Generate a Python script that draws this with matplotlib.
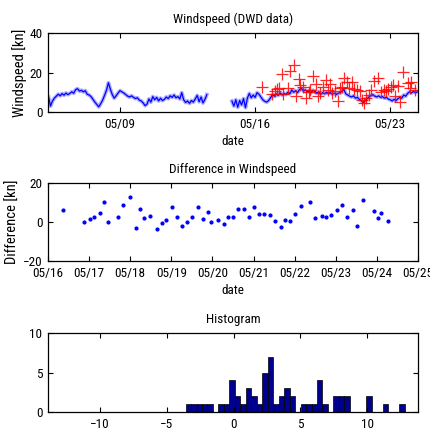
import numpy as np
import matplotlib
matplotlib.use("Agg")
import matplotlib.pyplot as plt
import matplotlib.dates as mdates
from datetime import datetime, timedelta

plt.rcParams['font.family'] = ['Roboto Condensed', 'DejaVu Sans']
plt.rcParams['font.size'] = 9.5

# ---------------- data ----------------
# measured wind speed (blue line), two segments, day-of-May
seg1_start, seg1_end = 5.3, 13.5
seg1_speed = [7.5, 3.0, 5.5, 7.0, 8.0, 9.0, 8.2, 9.3, 8.5, 9.6,
              8.8, 9.4, 10.2, 9.5, 11.3, 11.8, 10.6, 11.0, 10.2, 10.8,
              9.0, 8.6, 7.8, 6.4, 5.0, 3.8, 2.6, 4.2, 6.0, 8.4,
              11.0, 14.8, 11.6, 8.8, 7.0, 8.2, 9.6, 10.8, 10.2, 9.6,
              8.8, 8.0, 7.6, 8.2, 7.4, 6.8, 7.2, 6.0, 5.6, 4.6,
              3.2, 4.0, 6.6, 5.0, 7.8, 6.2, 7.4, 5.6, 7.0, 5.8,
              6.4, 7.6, 6.8, 8.2, 7.4, 8.6, 7.2, 7.8, 6.6, 9.8,
              6.2, 4.8, 5.6, 4.4, 5.8, 5.0, 6.6, 8.4, 5.2, 7.6,
              4.6, 6.4, 8.8]
seg2_start, seg2_end = 14.8, 24.4
seg2_speed = [5.5, 3.0, 6.2, 2.4, 5.8, 3.6, 6.8, 2.2, 7.0, 9.4,
              7.2, 8.6, 7.4, 9.8, 9.0, 7.6, 6.2, 5.4, 5.0, 5.8,
              7.2, 8.8, 8.0, 9.2, 8.4, 9.6, 8.6, 9.4, 8.8, 10.0,
              9.2, 11.2, 10.0, 10.8, 9.8, 11.4, 12.0, 10.6, 11.2, 10.2,
              10.8, 9.8, 11.0, 10.4, 9.6, 10.2, 9.0, 9.8, 9.2, 10.0,
              9.4, 9.8, 9.0, 9.6, 8.8, 9.4, 9.8, 10.6, 11.4, 9.2,
              8.6, 8.0, 7.6, 8.2, 7.0, 7.4, 6.4, 5.8, 4.8, 5.6,
              6.8, 7.6, 8.4, 8.8, 8.0, 7.6, 8.2, 7.4, 7.8, 7.0,
              7.4, 6.6, 6.2, 5.6, 6.4, 5.8, 6.8, 7.4, 7.0, 8.6,
              8.0, 9.4, 10.2, 9.6, 10.4, 9.8, 10.2]

# comparison times (day-of-May) shared by red crosses and differences
cmp_days = [16.37, 16.88, 17.02, 17.13, 17.26, 17.37, 17.47, 17.70, 17.83, 18.00,
            18.14, 18.25, 18.34, 18.48, 18.65, 18.77, 18.87, 19.01, 19.13, 19.25,
            19.37, 19.50, 19.66, 19.76, 19.88, 19.97, 20.13, 20.27, 20.38, 20.51,
            20.63, 20.77, 20.89, 21.00, 21.13, 21.26, 21.41, 21.52, 21.66, 21.76,
            21.89, 22.00, 22.15, 22.38, 22.50, 22.66, 22.76, 22.89, 23.03, 23.16,
            23.27, 23.41, 23.51, 23.67, 23.93, 24.02, 24.09, 24.27]
red_speed = [12.5, 9.0, 10.5, 11.5, 12.0, 19.2, 9.0, 12.4, 21.0, 23.8,
             8.0, 16.7, 13.5, 12.5, 6.9, 10.3, 11.0, 18.2, 14.0, 8.2,
             9.5, 12.5, 16.2, 11.0, 14.0, 9.5, 10.5, 5.5, 12.0, 12.8,
             17.0, 15.0, 12.0, 15.0, 11.5, 11.0, 10.8, 6.0, 4.4, 7.0,
             8.5, 11.3, 15.7, 17.4, 10.0, 11.3, 10.5, 11.4, 12.5, 13.9,
             8.0, 13.0, 5.2, 20.5, 14.9, 12.4, 15.0, 11.0]
difference = [6.3, 0.0, 1.5, 2.6, 4.4, 10.2, 0.0, 2.4, 8.5, 12.8,
              -2.9, 6.8, 2.0, 3.1, -3.6, -0.5, 1.0, 7.8, 2.6, -1.8,
              0.0, 2.8, 7.9, 1.5, 5.3, -0.2, 1.0, -1.0, 2.6, 2.8,
              6.5, 6.6, 2.7, 7.7, 3.9, 3.9, 3.7, 0.3, -2.6, 1.2,
              0.7, 3.9, 8.2, 10.1, 2.2, 2.9, 2.4, 3.6, 6.4, 8.5,
              2.4, 5.9, -2.2, 11.3, 5.6, 2.2, 4.4, 0.45]

# ---------------- helpers ----------------
base = datetime(2008, 5, 1)
def to_num(days):
    return np.array([mdates.date2num(base + timedelta(days=float(d) - 1)) for d in days])

t1 = to_num(np.linspace(seg1_start, seg1_end, len(seg1_speed)))
t2 = to_num(np.linspace(seg2_start, seg2_end, len(seg2_speed)))
tc = to_num(cmp_days)

W, H = 430, 432
fig = plt.figure(figsize=(W / 100, H / 100), dpi=100)

def box(px_left, px_top, px_right, px_bottom):
    return [px_left / W, 1 - px_bottom / H, (px_right - px_left) / W, (px_bottom - px_top) / H]

def style(ax):
    ax.tick_params(direction='in', top=True, right=True, length=3.5, width=0.8,
                   labelsize=9.5, pad=4)
    for s in ax.spines.values():
        s.set_linewidth(0.9)

# ---------------- top: wind speed ----------------
ax1 = fig.add_axes(box(48, 33, 418, 112))
for t, v in ((t1, seg1_speed), (t2, seg2_speed)):
    ax1.plot(t, v, color='#8c8cff', lw=2.8, alpha=0.7, solid_joinstyle='round')
    ax1.plot(t, v, color='#0000ff', lw=0.9)
ax1.plot(tc, red_speed, linestyle='none', marker='+', color='#ff0000',
         markersize=8.5, markeredgewidth=0.9, alpha=0.85)
ax1.set_xlim(to_num([5.27])[0], to_num([24.44])[0])
ax1.set_ylim(0, 40)
ax1.set_yticks([0, 20, 40])
ax1.set_xticks(to_num([9, 16, 23]))
ax1.xaxis.set_major_formatter(mdates.DateFormatter('%m/%d'))
ax1.set_title('Windspeed (DWD data)', fontsize=9.5, pad=7)
ax1.set_ylabel('Windspeed [kn]', labelpad=2, fontsize=10.5)
ax1.set_xlabel('date', labelpad=3)
style(ax1)

# ---------------- middle: difference ----------------
ax2 = fig.add_axes(box(48, 183, 418, 261))
ax2.plot(tc, difference, linestyle='none', marker='.', color='#0000ff', markersize=4)
ax2.set_xlim(to_num([16])[0], to_num([25])[0])
ax2.set_ylim(-20, 20)
ax2.set_yticks([-20, 0, 20])
ax2.set_xticks(to_num(range(16, 26)))
ax2.xaxis.set_major_formatter(mdates.DateFormatter('%m/%d'))
ax2.set_title('Difference in Windspeed', fontsize=9.5, pad=7)
ax2.set_ylabel('Difference [kn]', labelpad=2, fontsize=10.5)
ax2.set_xlabel('date', labelpad=3)
style(ax2)

# ---------------- bottom: histogram ----------------
ax3 = fig.add_axes(box(48, 333, 418, 412))
ax3.hist(difference, bins=40, color='#00008f', edgecolor='black', linewidth=0.5)
ax3.set_xlim(-13.9, 13.8)
ax3.set_ylim(0, 10)
ax3.set_yticks([0, 5, 10])
ax3.set_xticks([-10, -5, 0, 5, 10])
ax3.set_title('Histogram', fontsize=9.5, pad=7)
style(ax3)

fig.savefig('out.png', dpi=100)
